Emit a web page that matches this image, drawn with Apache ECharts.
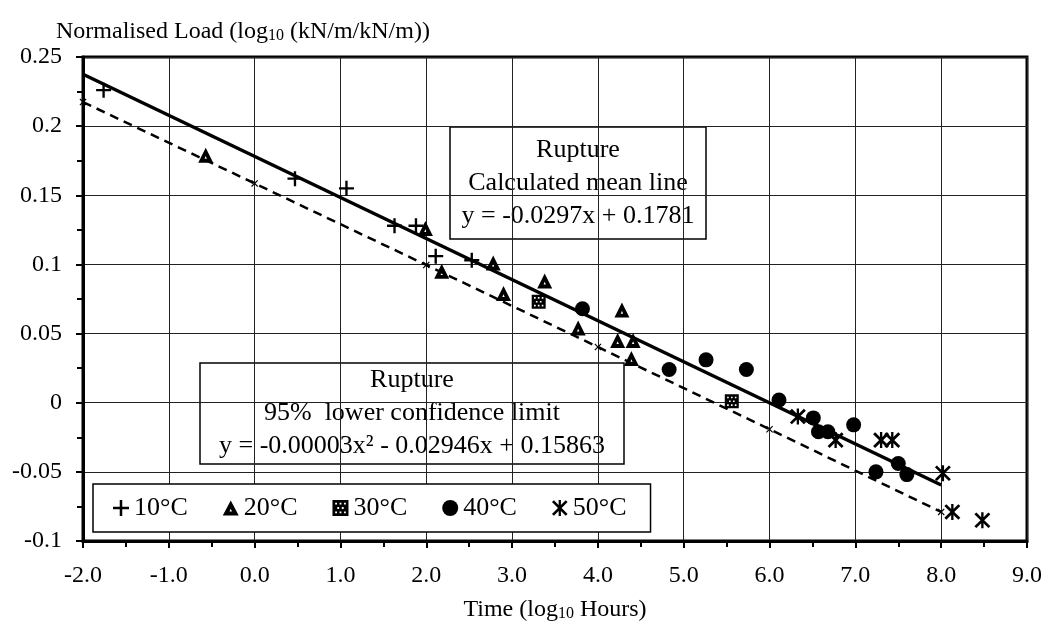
<!DOCTYPE html>
<html>
<head>
<meta charset="utf-8">
<script src="https://cdn.jsdelivr.net/npm/echarts/dist/echarts.min.js"></script>
<style>
  html, body { margin: 0; padding: 0; background: #fff; }
  #chart { width: 1046px; height: 627px; }
</style>
</head>
<body>
<div id="chart"></div>
<script>
// Creep rupture data: normalised load vs time, grouped by test temperature
const seriesNames = ['10°C', '20°C', '30°C', '40°C', '50°C'];

const rupture10 = [[-1.76, 0.226], [0.47, 0.162], [1.07, 0.155], [1.63, 0.128], [1.88, 0.128], [2.11, 0.106], [2.53, 0.103]];
const rupture20 = [[-0.57, 0.179], [1.99, 0.126], [2.18, 0.095], [2.78, 0.101], [2.90, 0.079], [3.38, 0.088], [3.77, 0.054],
                   [4.28, 0.067], [4.23, 0.045], [4.41, 0.045], [4.39, 0.032]];
const rupture30 = [[3.31, 0.073], [5.56, 0.001]];
const rupture40 = [[3.82, 0.068], [4.83, 0.024], [5.26, 0.031], [5.73, 0.024], [6.11, 0.002], [6.51, -0.011], [6.57, -0.021],
                   [6.68, -0.021], [6.98, -0.016], [7.24, -0.050], [7.50, -0.044], [7.60, -0.052]];
const rupture50 = [[6.33, -0.010], [6.77, -0.027], [7.30, -0.027], [7.43, -0.027], [8.02, -0.051], [8.13, -0.079], [8.48, -0.085]];

// Regression lines: mean y = -0.0297x + 0.1781 ; lower 95% limit y = -0.00003x² - 0.02946x + 0.15863
const meanLine = [[-2, 0.2375], [8, -0.0595]];
const lowerLimit = [[-2, 0.2174], [0, 0.1586], [2, 0.0996], [4, 0.0403], [6, -0.0192], [8, -0.0790]];

const xTickLabels = ['-2.0', '-1.0', '0.0', '1.0', '2.0', '3.0', '4.0', '5.0', '6.0', '7.0', '8.0', '9.0'];
const yTickLabels = ['-0.1', '-0.05', '0', '0.05', '0.1', '0.15', '0.2', '0.25'];

const FONT = '"Liberation Serif", "Times New Roman", serif';

// Marker shapes
const plusPath = 'path://M5.9,0H8.1V5.9H14V8.1H8.1V14H5.9V8.1H0V5.9H5.9Z';
const trianglePath = 'path://M7,0L14,13L0,13Z M7,7.2L5.9,9.6L8.1,9.6Z';
const squarePath = 'path://M0,0H12V12H0Z' +
  ' M2,2V3.4H3.4V2Z M5.3,2V3.4H6.7V2Z M8.6,2V3.4H10V2Z' +
  ' M3.6,5.3V6.7H5V5.3Z M7,5.3V6.7H8.4V5.3Z' +
  ' M2,8.6V10H3.4V8.6Z M5.3,8.6V10H6.7V8.6Z M8.6,8.6V10H10V8.6Z';
const starPath = 'path://M6,0H8V14H6Z' +
  ' M1.85,0.15L13.85,12.15L12.15,13.85L0.15,1.85Z' +
  ' M13.85,1.85L1.85,13.85L0.15,12.15L12.15,0.15Z';
const smallCross = 'path://M0,1.2L1.2,0L5,3.8L8.8,0L10,1.2L6.2,5L10,8.8L8.8,10L5,6.2L1.2,10L0,8.8L3.8,5Z';

const chart = echarts.init(document.getElementById('chart'), null, { renderer: 'canvas' });

function scatter(name, data, symbol, size) {
  return {
    name: name, type: 'scatter', data: data,
    symbol: symbol, symbolSize: size,
    itemStyle: { color: '#000', opacity: 1 },
    z: 5
  };
}

const option = {
  animation: false,
  backgroundColor: '#fff',
  textStyle: { fontFamily: FONT, color: '#000' },
  grid: {
    left: 83, right: 19, top: 57, bottom: 86,
    containLabel: false, outerBoundsMode: 'none',
    show: true, borderColor: '#000', borderWidth: 3, backgroundColor: 'transparent'
  },
  xAxis: {
    type: 'value', min: -2, max: 9, interval: 1,
    axisLine: { show: true, onZero: false, lineStyle: { color: '#000', width: 3 } },
    axisTick: { show: true, length: 7, lineStyle: { color: '#000', width: 2 } },
    minorTick: { show: true, splitNumber: 2, length: 6, lineStyle: { color: '#000', width: 2 } },
    splitLine: { show: true, lineStyle: { color: '#222', width: 1 } },
    axisLabel: {
      margin: 23, fontSize: 24, fontFamily: FONT, color: '#000',
      formatter: v => xTickLabels[Math.round(v + 2)]
    }
  },
  yAxis: {
    type: 'value', min: -0.1, max: 0.25, interval: 0.05,
    axisLine: { show: true, onZero: false, lineStyle: { color: '#000', width: 3 } },
    axisTick: { show: true, length: 7, lineStyle: { color: '#000', width: 2 } },
    minorTick: { show: true, splitNumber: 2, length: 6, lineStyle: { color: '#000', width: 2 } },
    splitLine: { show: true, lineStyle: { color: '#222', width: 1 } },
    axisLabel: {
      margin: 21, fontSize: 24, fontFamily: FONT, color: '#000',
      formatter: v => yTickLabels[Math.round((v + 0.1) / 0.05)]
    }
  },
  legend: {
    data: seriesNames,
    left: 93, top: 484,
    orient: 'horizontal',
    padding: [11, 24, 11, 20],
    itemGap: 35, itemWidth: 16, itemHeight: 16,
    backgroundColor: '#fff', borderColor: '#000', borderWidth: 1.5, borderRadius: 0,
    textStyle: { fontSize: 26, fontFamily: FONT, color: '#000' },
    z: 10
  },
  series: [
    {
      name: 'Mean', type: 'line', data: meanLine,
      symbol: 'none', lineStyle: { color: '#000', width: 3.5 }, z: 3
    },
    {
      name: 'Lower limit', type: 'line', data: lowerLimit,
      symbol: smallCross, symbolSize: 7, itemStyle: { color: '#000' },
      lineStyle: { color: '#000', width: 2.5, type: [9, 6] }, z: 3
    },
    scatter('10°C', rupture10, plusPath, 15),
    scatter('20°C', rupture20, trianglePath, 15),
    scatter('30°C', rupture30, squarePath, 14),
    scatter('40°C', rupture40, 'circle', 15),
    scatter('50°C', rupture50, starPath, 16)
  ],
  graphic: [
    // axis titles
    {
      type: 'text', left: 56, top: 20, z: 20,
      style: {
        text: '{a|Normalised Load (log}{s|10}{a| (kN/m/kN/m))}',
        rich: {
          a: { fontSize: 24, fontFamily: FONT, fill: '#000', lineHeight: 30, verticalAlign: 'bottom' },
          s: { fontSize: 16, fontFamily: FONT, fill: '#000', lineHeight: 16, verticalAlign: 'bottom' }
        }
      }
    },
    {
      type: 'text', x: 555, y: 592, z: 20,
      style: {
        text: '{a|Time (log}{s|10}{a| Hours)}',
        align: 'center',
        rich: {
          a: { fontSize: 24, fontFamily: FONT, fill: '#000', lineHeight: 30, verticalAlign: 'bottom' },
          s: { fontSize: 16, fontFamily: FONT, fill: '#000', lineHeight: 16, verticalAlign: 'bottom' }
        }
      }
    },
    // mean line annotation
    {
      type: 'group', z: 15,
      children: [
        { type: 'rect', shape: { x: 450, y: 127, width: 256, height: 112 },
          style: { fill: '#fff', stroke: '#000', lineWidth: 1.5 } },
        { type: 'text', x: 578, y: 134,
          style: { text: 'Rupture\nCalculated mean line\ny = -0.0297x + 0.1781', align: 'center',
                   fontSize: 26, lineHeight: 33, fontFamily: FONT, fill: '#000' } }
      ]
    },
    // lower confidence annotation
    {
      type: 'group', z: 15,
      children: [
        { type: 'rect', shape: { x: 200, y: 363, width: 424, height: 101 },
          style: { fill: '#fff', stroke: '#000', lineWidth: 1.5 } },
        { type: 'text', x: 412, y: 364,
          style: { text: 'Rupture\n95%  lower confidence limit\ny = -0.00003x² - 0.02946x + 0.15863', align: 'center',
                   fontSize: 26, lineHeight: 33, fontFamily: FONT, fill: '#000' } }
      ]
    }
  ]
};

chart.setOption(option);
</script>
</body>
</html>
